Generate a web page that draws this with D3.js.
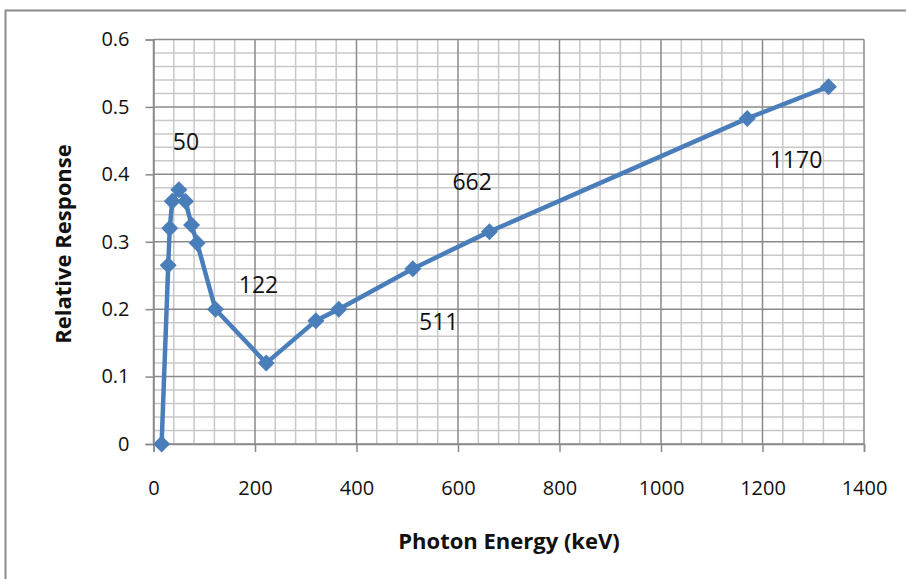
<!DOCTYPE html>
<html><head><meta charset="utf-8">
<script src="https://cdn.jsdelivr.net/npm/d3@7/dist/d3.min.js"></script>
<style>body{margin:0;background:#fff;}svg{display:block;}</style>
</head><body>
<svg id="c" width="906" height="579"></svg>
<script>
const energy = [16, 29, 32, 37, 50, 63, 75, 86, 122, 222, 320, 365, 511, 662, 1170, 1330];
const response = [0, 0.265, 0.32, 0.36, 0.377, 0.36, 0.325, 0.298, 0.2, 0.12, 0.183, 0.2, 0.26, 0.315, 0.483, 0.53];
const xTicks = [0, 200, 400, 600, 800, 1000, 1200, 1400];
const yTicks = [0, 0.1, 0.2, 0.3, 0.4, 0.5, 0.6];
const noteText = ["50", "122", "662", "511", "1170"];
const noteX = [64, 207, 628, 562, 1266];
const noteY = [0.45, 0.238, 0.39, 0.183, 0.423];
const xTitle = "Photon Energy (keV)";
const yTitle = "Relative Response";

const svg = d3.select("#c");
const font = "'Open Sans', Lato, sans-serif";
const x = d3.scaleLinear().domain([0, 1400]).range([153.5, 864]);
const y = d3.scaleLinear().domain([0, 0.6]).range([444, 39.5]);

// outer frame
svg.append("path").attr("d", "M5.5,920 L5.5,10.5 L920,10.5")
  .attr("fill", "none").attr("stroke", "#8c8c8c").attr("stroke-width", 2);

const g = svg.append("g");
// minor grid
const xMinor = d3.range(0, 1401, 40).filter(v => v % 200 !== 0);
const yMinor = d3.range(0, 31).map(i => i * 0.02).filter((v, i) => i % 5 !== 0);
g.selectAll(".xm").data(xMinor).join("line")
  .attr("x1", d => x(d)).attr("x2", d => x(d)).attr("y1", y(0)).attr("y2", y(0.6))
  .attr("stroke", "#c8c8c8").attr("stroke-width", 1.5);
g.selectAll(".ym").data(yMinor).join("line")
  .attr("y1", d => y(d)).attr("y2", d => y(d)).attr("x1", x(0)).attr("x2", x(1400))
  .attr("stroke", "#c8c8c8").attr("stroke-width", 1.5);
// major grid
g.selectAll(".xM").data(xTicks).join("line")
  .attr("x1", d => x(d)).attr("x2", d => x(d)).attr("y1", y(0)).attr("y2", y(0.6))
  .attr("stroke", "#8a8a8a").attr("stroke-width", 1.5);
g.selectAll(".yM").data(yTicks).join("line")
  .attr("y1", d => y(d)).attr("y2", d => y(d)).attr("x1", x(0)).attr("x2", x(1400))
  .attr("stroke", "#8a8a8a").attr("stroke-width", 1.5);

// axes
const xAxis = svg.append("g").attr("transform", `translate(0,${y(0)})`)
  .call(d3.axisBottom(x).tickValues(xTicks).tickSize(8).tickPadding(29).tickFormat(d3.format("d")));
const yAxis = svg.append("g").attr("transform", `translate(${x(0)},0)`)
  .call(d3.axisLeft(y).tickValues(yTicks).tickSize(8).tickPadding(16).tickFormat(d => d === 0 ? "0" : d3.format(".1f")(d)));
[xAxis, yAxis].forEach(a => {
  a.select(".domain").attr("stroke", "#8a8a8a").attr("stroke-width", 1.5);
  a.selectAll(".tick line").attr("stroke", "#8a8a8a").attr("stroke-width", 1.5);
  a.selectAll("text").attr("font-family", font).attr("font-size", 20).attr("fill", "#111");
});

// series
const pts = energy.map((e, i) => [e, response[i]]);
svg.append("path").datum(pts)
  .attr("d", d3.line().x(d => x(d[0])).y(d => y(d[1])))
  .attr("fill", "none").attr("stroke", "#4a7ebb").attr("stroke-width", 4.5).attr("stroke-linejoin", "round");
const r = 8.5;
svg.selectAll(".mk").data(pts).join("path")
  .attr("d", d => `M${x(d[0])},${y(d[1]) - r}L${x(d[0]) + r},${y(d[1])}L${x(d[0])},${y(d[1]) + r}L${x(d[0]) - r},${y(d[1])}Z`)
  .attr("fill", "#4a7ebb");

// annotations
svg.selectAll(".note").data(noteText).join("text")
  .attr("x", (d, i) => x(noteX[i])).attr("y", (d, i) => y(noteY[i]))
  .attr("text-anchor", "middle").attr("dominant-baseline", "central")
  .attr("font-family", font).attr("font-size", 23).attr("fill", "#111").text(d => d);

// titles
svg.append("text").attr("x", 509).attr("y", 540).attr("text-anchor", "middle").attr("dominant-baseline", "central")
  .attr("font-family", font).attr("font-weight", "bold").attr("font-size", 22).attr("fill", "#111").text(xTitle);
svg.append("text").attr("transform", "translate(62,244) rotate(-90)").attr("text-anchor", "middle").attr("dominant-baseline", "central")
  .attr("font-family", font).attr("font-weight", "bold").attr("font-size", 22).attr("fill", "#111").text(yTitle);
</script>
</body></html>
